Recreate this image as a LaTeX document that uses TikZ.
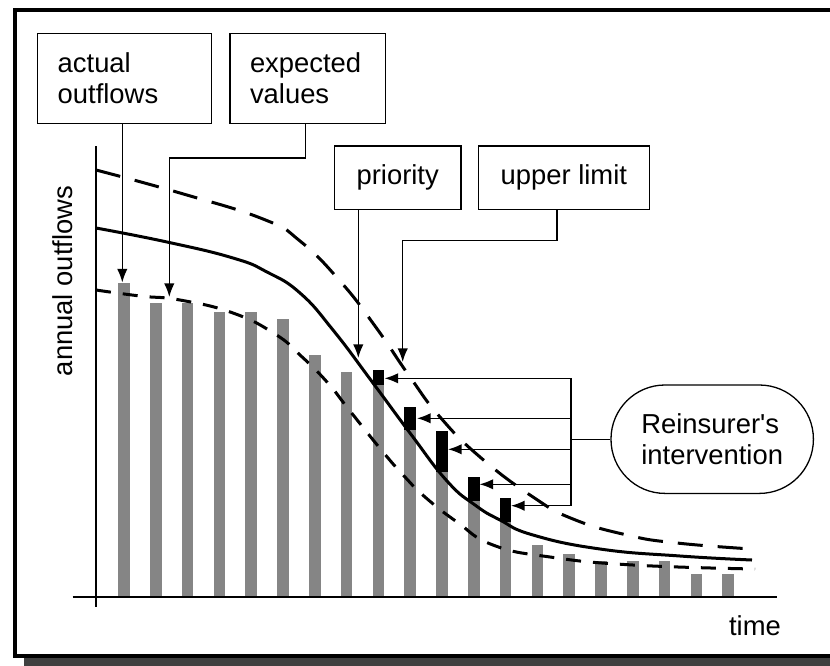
\documentclass[tikz,border=0pt]{standalone}
\usepackage{fontspec}
\setmainfont{Liberation Sans}
\usetikzlibrary{arrows.meta,calc}
\definecolor{barfill}{gray}{0.52}
\definecolor{shadowgray}{gray}{0.25}
\tikzset{
    every picture/.style={font=\fontsize{13.7}{15.5}\selectfont},
    labelbox/.style={draw, line width=0.65pt, inner xsep=10pt, inner ysep=0pt, align=left},
    conn/.style={line width=0.7pt},
    arr/.style={-{Latex[length=6.8pt,width=5.2pt]}},
    curve/.style={line width=1.5pt},
}

\begin{document}
\begin{tikzpicture}[x=0.5pt, y=-0.5pt]
    \useasboundingbox (0, 0) rectangle (830, 665);
    \clip (0, 0) rectangle (830, 665);
    \fill [shadowgray] (24, 18) rectangle (880, 690);
    \draw [line width=2pt, fill=white] (15.3, 9.5) rectangle (850, 656.3);
    \foreach \top [count=\i from 0] in {282.7, 303.3, 303.3, 312.3, 312.3, 319, 355, 372.3, 370, 406.7,
                                        430.7, 477.3, 498.3, 545, 554, 560.7, 560.7, 560.7, 574, 574}{
        \fill [barfill] (124 + 31.8*\i - 5.75, \top) rectangle ++(11.5, 598 - \top);
    }
    \foreach \n/\top/\bot in {8/370/385, 9/406.7/430, 10/430.7/471.7, 11/477.3/500.7, 12/498.3/522.3}{
        \fill (124 + 31.8*\n - 5.75, \top) rectangle ++(11.5, \bot - \top);
    }
    \draw [curve, dash pattern=on 12.5pt off 7.5pt] plot [smooth, tension=0.8] coordinates {
        (96, 170) (180, 193) (263, 219) (300, 241) (340, 281) (375, 326) (410, 377) (440, 417)
        (480, 457) (533, 497) (573, 519) (627, 535) (677, 543) (752, 549)};
    \draw [curve] plot [smooth, tension=0.8] coordinates {
        (96, 228) (167, 242) (233, 258) (267, 272) (300, 293) (333, 330) (373, 383) (410, 433)
        (447, 481) (475, 505) (500, 520) (533, 535) (600, 549) (680, 556) (752, 560)};
    \draw [curve, dash pattern=on 7.5pt off 6pt] plot [smooth, tension=0.8] coordinates {
        (96, 290) (140, 296) (180, 300) (233, 313) (275, 334) (300, 355) (327, 382) (350, 411)
        (383, 452) (405, 477) (425, 497) (457, 522) (493, 545) (550, 557) (633, 565) (755, 569)};
    \draw [line width=1pt] (96, 146) -- (96, 607);
    \draw [line width=1pt] (72.7, 596.7) -- (776.7, 596.7);
    \node [rotate=90] (ylab) at (63, 281) {annual outflows};
    \node [anchor=base] (tlab) at (755, 635) {time};
    \node [labelbox, text width=67pt, minimum height=45pt] (actual) at (124.7, 78.3) {actual\\outflows};
    \node [labelbox, text width=57.85pt, minimum height=45pt] (expected) at (307.85, 78.3) {expected\\values};
    \node [labelbox, minimum width=63.3pt, minimum height=31.7pt] (priority) at (397.7, 177.7) {priority};
    \node [labelbox, minimum width=85.5pt, minimum height=31.7pt] (upper) at (563.8, 177.7) {upper limit};
    \node [labelbox, minimum width=101.2pt, minimum height=54.2pt, rounded corners=27pt] (reins)
        at (712.2, 439.2) {Reinsurer\textquotesingle s\\intervention};
    \coordinate (tipA) at (122.3, 282.5);
    \coordinate (tipE) at (169.3, 297);
    \coordinate (tipP) at (358.3, 358);
    \coordinate (tipU) at (402.7, 362);
    \coordinate (bus) at (571, 0);
    \coordinate (ex1) at (384.5, 378.3);
    \coordinate (ex2) at (417, 418.3);
    \coordinate (ex3) at (448, 449.3);
    \coordinate (ex4) at (479.5, 484.3);
    \coordinate (ex5) at (511, 505.7);
    \draw [conn, arr] (actual.south -| tipA) -- (tipA);
    \draw [conn, arr] ([xshift=-1.25pt]expected.south) -- ++(0, 34) -| (tipE);
    \draw [conn, arr] (priority.south -| tipP) -- (tipP);
    \draw [conn, arr] ([xshift=-3.5pt]upper.south) -- ++(0, 30.7) -| (tipU);
    \draw [conn] (reins.west) -- (reins.west -| bus);
    \draw [conn] (bus |- ex1) -- (bus |- ex5);
    \foreach \i in {1, ..., 5}{
        \draw [conn, arr] (bus |- ex\i) -- (ex\i);
    }
\end{tikzpicture}
\end{document}
